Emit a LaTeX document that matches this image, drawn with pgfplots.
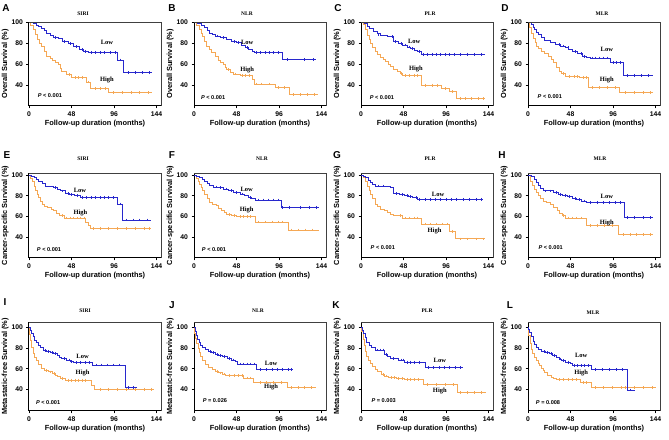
\documentclass[border=0pt]{standalone}
\usepackage{pgfplots}
\pgfplotsset{compat=1.18}
\usepackage{fontspec}
\setmainfont{Liberation Sans}
\newfontfamily\serf{Liberation Serif}
\definecolor{kmblue}{RGB}{40,40,205}
\definecolor{kmorange}{RGB}{245,168,85}

\pgfplotsset{
  km/.style={
    scale only axis, width=132pt, anchor=south west,
    xmin=0, xmax=149, xtick={0,48,96,144}, ytick={40,60,80,100},
    axis x line*=bottom, axis y line*=left,
    axis line style={line width=1pt},
    tick style={line width=0.8pt, black},
    tick align=outside, major tick length=2.5pt,
    ticklabel style={font=\fontsize{6.8}{7}\selectfont\bfseries},
    /pgf/number format/assume math mode=true,
    xlabel={Follow-up duration (months)},
    label style={font=\fontsize{7.4}{8}\selectfont\bfseries},
    xlabel style={yshift=3.5pt}, ylabel style={yshift=-4pt},
    clip=false,
    after end axis/.code={\draw[line width=0.5pt, black!75] (rel axis cs:0,1) -- (rel axis cs:1,1) -- (rel axis cs:1,0);},
  },
  row1/.style={km, height=84pt, ymin=20, ymax=100.5, ylabel={Overall Survival (\%)}},
  row2/.style={km, height=85pt, ymin=20, ymax=102, ylabel={Cancer-specific Survival (\%)}},
  row3/.style={km, height=89pt, ymin=19, ymax=105.5, ylabel={Metastatic-free Survival (\%)}},
  low/.style={const plot, color=kmblue, line width=0.9pt},
  high/.style={const plot, color=kmorange, line width=0.9pt},
  lowc/.style={only marks, mark=|, mark size=1.4pt, color=kmblue, mark options={line width=0.5pt}},
  highc/.style={only marks, mark=|, mark size=1.4pt, color=kmorange, mark options={line width=0.5pt}},
}
\newcommand{\km}[4]{%
  \addplot[high] coordinates {#3};
  \addplot[highc] coordinates {#4};
  \addplot[low] coordinates {#1};
  \addplot[lowc] coordinates {#2};
}
\tikzset{
  lh/.style={font=\serf\fontsize{6.5}{7}\selectfont\bfseries},
  pv/.style={font=\fontsize{5.6}{6}\selectfont\bfseries, anchor=west},
  ttl/.style={font=\serf\fontsize{5.5}{6}\selectfont\bfseries},
  let/.style={font=\fontsize{10}{11}\selectfont\bfseries},
}

\begin{document}
\begin{tikzpicture}[x=1pt,y=1pt]
\useasboundingbox (0,0) rectangle (669,439);

% ---------- row 1: overall survival ----------
\begin{axis}[row1, at={(29pt,333pt)}]
\km{(0,100)(5,99)(8,97.5)(11,96)(14,94)(17,92)(20,90)(24,88)(28,86)(33,84.4)(38,82)(44,79.6)(50,77)(57,74)(62,72.4)(67,71.3)(100,64)(107,52)(139,52)}
{(30,86)(40,82)(46,79.6)(53,77)(60,74)(64,72.4)(70,71.3)(75,71.3)(80,71.3)(85,71.3)(92,71.3)(97,71.3)(103,64)(112,52)(120,52)(128,52)(136,52)}
{(0,100)(2,97)(4.5,93.5)(7,89)(10,84)(12,80)(14,77)(17,72)(20,67.6)(24,65.5)(27,64)(30,62)(33,59.5)(35,56)(37,53)(42,50)(48,47.5)(65,43)(69,37)(90,33)(139,33)}
{(45,50)(52,47.5)(56,47.5)(60,47.5)(67,43)(75,37)(80,37)(86,37)(95,33)(105,33)(115,33)(125,33)(135,33)}
\node[lh] at (axis cs:88,80.5) {Low};
\node[lh] at (axis cs:88,45) {High};
\node[pv] at (axis cs:6,30) {\textit{P} < 0.001};
\end{axis}

\begin{axis}[row1, at={(194pt,333pt)}]
\km{(0,100)(4,99)(8,97.5)(12,95)(15,92.5)(18,90)(21,88.5)(24,87)(30,85.5)(37,84)(42,82)(48,80.5)(53,78)(58,75.7)(62,74)(66,72.4)(68,71.3)(100,64.5)(138,64.5)}
{(26,87)(33,85.5)(45,82)(50,80.5)(60,75.7)(70,71.3)(75,71.3)(80,71.3)(85,71.3)(90,71.3)(95,71.3)(105,64.5)(125,64.5)(135,64.5)}
{(0,100)(3,97)(6.5,93.5)(8,90)(10,87)(12,82)(14,77)(17,74)(20,71)(24,67.5)(27.5,64)(30,62)(33,59.5)(35,57)(37,54.6)(41,52.5)(44.7,50.7)(52,49)(66,45)(68,41)(92,37.7)(108,31)(140,31)}
{(39,54.6)(46,50.7)(55,49)(58,49)(62,49)(70,41)(76,41)(85,41)(95,37.7)(102,37.7)(112,31)(120,31)(128,31)(136,31)}
\node[lh] at (axis cs:60,81) {Low};
\node[lh] at (axis cs:60,54.6) {High};
\node[pv] at (axis cs:4,27.7) {\textit{P} < 0.001};
\end{axis}

\begin{axis}[row1, at={(361pt,333pt)}]
\km{(0,100)(4,99)(7,96)(10,94)(14.5,91)(18,89.5)(22,88)(30,87)(33.5,86.5)(37,81.7)(42,80)(47,78.5)(52,76.5)(56,75)(60,73.5)(64,72)(68,69.5)(140,69.5)}
{(20,88)(35,86.5)(39,81.7)(45,80)(50,78.5)(54,76.5)(58,75)(66,72)(70,69.5)(75,69.5)(80,69.5)(85,69.5)(90,69.5)(95,69.5)(100,69.5)(105,69.5)(112,69.5)(120,69.5)(128,69.5)(136,69.5)}
{(0,100)(3,97.7)(5,93)(7,88)(9,84)(10.7,80)(13,76)(16,72)(19,69.5)(22,67)(25,65)(28,62.5)(31,60)(33.5,57.7)(37,55)(41,52.8)(44,51)(47,49)(68,40)(91,37)(100,33.6)(108,27)(140,27)}
{(45,51)(50,49)(55,49)(60,49)(64,49)(72,40)(80,40)(86,40)(95,37)(103,33.6)(112,27)(118,27)(125,27)(132,27)(138,27)}
\node[lh] at (axis cs:60,81.7) {Low};
\node[lh] at (axis cs:62,55.4) {High};
\node[pv] at (axis cs:6,28) {\textit{P} < 0.001};
\end{axis}

\begin{axis}[row1, at={(528pt,333pt)}]
\km{(0,100)(4,98)(6,95.5)(7.7,93)(10,90.5)(11.6,88.5)(15,85.5)(19,82.8)(25,81)(31,79)(37,77.5)(42.6,75.7)(46,74)(50,72)(56,70)(62,67.8)(66,66.5)(70,66)(93,61.4)(108,49)(141,49)}
{(35,79)(40,77.5)(45,75.7)(53,72)(60,70)(64,67.8)(72,66)(76,66)(80,66)(85,66)(90,66)(96,61.4)(100,61.4)(104,61.4)(112,49)(120,49)(128,49)(136,49)}
{(0,100)(2,95)(4,90)(6,85)(8,80.5)(9.7,77)(12,75)(15.5,72.5)(19,70.5)(23,67.8)(26,64.5)(29,61.4)(32,57)(35,53.4)(38,51)(42.6,48.6)(58,47.6)(68,37.4)(103,32.7)(141,32.7)}
{(40,51)(46,48.6)(52,48.6)(56,48.6)(62,47.6)(66,47.6)(72,37.4)(80,37.4)(90,37.4)(98,37.4)(110,32.7)(120,32.7)(130,32.7)(138,32.7)}
\node[lh] at (axis cs:89,74) {Low};
\node[lh] at (axis cs:89,44.5) {High};
\node[pv] at (axis cs:7,29.5) {\textit{P} < 0.001};
\end{axis}

% ---------- row 2: cancer-specific survival ----------
\begin{axis}[row2, at={(29pt,181pt)}]
\km{(0,100)(3,99)(5.6,98)(8,96)(11,94)(15,92)(19,89.5)(28,88)(32,86.5)(35.7,84.7)(41,82)(46,81)(51,80)(58,78.3)(99.6,72)(106,56.6)(138,56.6)}
{(30,88)(38,84.7)(44,82)(48,81)(55,80)(60,78.3)(65,78.3)(70,78.3)(75,78.3)(80,78.3)(85,78.3)(90,78.3)(95,78.3)(103,72)(110,56.6)(118,56.6)(125,56.6)(133,56.6)}
{(0,100)(2,97)(4,94)(6,89)(7.5,84.7)(9,81)(11,78)(13,75)(15,72)(18,70)(20.7,68.7)(25,67)(28,65.5)(31,63)(34,60.7)(39.5,58.5)(64,54.4)(67,51)(69.5,48.6)(138,48.6)}
{(37,60.7)(42,58.5)(46,58.5)(50,58.5)(54,58.5)(58,58.5)(62,58.5)(72,48.6)(80,48.6)(90,48.6)(100,48.6)(110,48.6)(120,48.6)(130,48.6)(136,48.6)}
\node[lh] at (axis cs:57.5,85.3) {Low};
\node[lh] at (axis cs:58,63.3) {High};
\node[pv] at (axis cs:5,27.9) {\textit{P} < 0.001};
\end{axis}

\begin{axis}[row2, at={(194pt,181pt)}]
\km{(0,100)(3,99)(6.4,98)(9,96)(12,94)(15,91.5)(18,89.6)(22,88.5)(27,88)(33,86.5)(38.6,84.8)(45,83)(52,81.7)(57,80)(61,78.5)(65,77)(69,76)(98.5,69)(141,69)}
{(25,88.5)(30,88)(36,86.5)(42,84.8)(48,83)(55,81.7)(63,78.5)(72,76)(78,76)(84,76)(90,76)(95,76)(100,69)(108,69)(120,69)(130,69)(138,69)}
{(0,100)(2.5,97)(4.5,94)(6.5,91)(8.3,88)(10,85)(12,81.7)(15,77.5)(18,73.8)(21,72)(25.4,70.6)(28,68)(31,65.9)(34,64)(36.7,62)(42.4,61)(48,60)(69,54.7)(107,47)(141,47)}
{(40,62)(45,61)(52,60)(56,60)(60,60)(64,60)(72,54.7)(80,54.7)(88,54.7)(95,54.7)(100,54.7)(110,47)(118,47)(126,47)(134,47)}
\node[lh] at (axis cs:59.5,86) {Low};
\node[lh] at (axis cs:59.5,66.5) {High};
\node[pv] at (axis cs:5,28) {\textit{P} < 0.001};
\end{axis}

\begin{axis}[row2, at={(361pt,181pt)}]
\km{(0,100)(3,99)(5,97.4)(8,95)(10.7,92.7)(13,91)(16.4,89.5)(33.5,88)(37,82)(43,81)(48.8,80)(53,79)(58,78.3)(64,76.7)(138,76.7)}
{(20,89.5)(25,89.5)(40,82)(46,81)(52,80)(56,79)(62,78.3)(66,76.7)(72,76.7)(78,76.7)(84,76.7)(90,76.7)(96,76.7)(102,76.7)(108,76.7)(115,76.7)(122,76.7)(130,76.7)(136,76.7)}
{(0,100)(3,97.4)(5,93.5)(7,89.5)(9,85.5)(10.7,81.5)(13,77)(16.4,72)(19,69.5)(22,67)(26,65.5)(29.7,64)(33.5,62.3)(37,61.5)(41,60.7)(47,58.5)(68,52.8)(100,45.7)(107,38.4)(140,38.4)}
{(44,60.7)(50,58.5)(55,58.5)(60,58.5)(64,58.5)(72,52.8)(78,52.8)(85,52.8)(92,52.8)(97,52.8)(103,45.7)(112,38.4)(120,38.4)(130,38.4)(138,38.4)}
\node[lh] at (axis cs:87,81.5) {Low};
\node[lh] at (axis cs:83,46.4) {High};
\node[pv] at (axis cs:7,29.8) {\textit{P} < 0.001};
\end{axis}

\begin{axis}[row2, at={(528pt,181pt)}]
\km{(0,100)(4,99)(7,96)(9.7,92.7)(12,90)(14,87.5)(17.4,84.7)(29,83)(34,81.5)(38.7,80)(44,79)(50,77.7)(55,76.5)(60,75)(66,73.5)(108.4,59)(141,59)}
{(20,84.7)(25,84.7)(32,83)(36,81.5)(42,80)(47,79)(53,77.7)(58,76.5)(63,75)(70,73.5)(78,73.5)(85,73.5)(92,73.5)(98,73.5)(104,73.5)(112,59)(120,59)(130,59)(138,59)}
{(0,100)(3,94)(5,90)(7.7,86)(9.5,83)(11.6,80)(14,77.5)(17.4,75)(21,73.5)(25,72)(29,68.5)(33,65.5)(36,63)(38.7,60.7)(42.6,58.5)(66,51)(102.6,43)(141,43)}
{(40,60.7)(45,58.5)(50,58.5)(55,58.5)(60,58.5)(70,51)(78,51)(86,51)(95,51)(108,43)(115,43)(122,43)(130,43)(138,43)}
\node[lh] at (axis cs:89,79) {Low};
\node[lh] at (axis cs:89,53.4) {High};
\node[pv] at (axis cs:8,30.4) {\textit{P} < 0.001};
\end{axis}

% ---------- row 3: metastatic-free survival ----------
\begin{axis}[row3, at={(29pt,28pt)}]
\km{(0,100)(1.5,97)(2.7,94.5)(4.5,91)(6.5,88)(8.5,85.5)(10.4,83)(13,80.5)(16,78)(20,77)(24,75.7)(28,74.5)(31.6,73.4)(34,71.5)(37,70)(42,68.5)(47,67)(50,66)(72,63.7)(108.6,42)(122,42)}
{(18,78)(22,77)(26,75.7)(30,74.5)(40,70)(45,68.5)(48,67)(53,66)(58,66)(63,66)(68,66)(76,63.7)(82,63.7)(88,63.7)(95,63.7)(102,63.7)(112,42)(118,42)}
{(0,100)(1,93)(1.5,88)(3,81)(4.6,75)(6.5,71.5)(8.5,68.5)(11,64)(14,60.4)(18,58.5)(22,57)(26,55.5)(29.6,54)(32,52.5)(35.4,50.7)(41,49)(70,44)(74,40)(141,40)}
{(20,58.5)(24,57)(28,55.5)(38,50.7)(44,49)(48,49)(52,49)(56,49)(60,49)(64,49)(80,40)(90,40)(100,40)(110,40)(120,40)(130,40)(138,40)}
\node[lh] at (axis cs:60.5,72.4) {Low};
\node[lh] at (axis cs:60.5,56.2) {High};
\node[pv] at (axis cs:4,27) {\textit{P} < 0.001};
\end{axis}

\begin{axis}[row3, at={(194pt,28pt)}]
\km{(0,100)(1.5,96)(2.6,92.7)(4,89)(5.6,86)(7.5,83)(9.3,80.5)(13,78.5)(16.8,76.7)(20,75.5)(24.3,74)(28,73)(31.8,72)(37.4,70.3)(42,68.5)(46.7,67)(48.6,64.6)(70,59)(112,59)}
{(18,76.7)(22,75.5)(26,74)(30,73)(34,72)(40,70.3)(44,68.5)(52,64.6)(56,64.6)(60,64.6)(64,64.6)(68,64.6)(75,59)(82,59)(88,59)(94,59)(100,59)(106,59)(110,59)}
{(0,100)(1,94)(1.9,89.5)(3,85)(4.5,80)(6,76)(7.5,72)(10,68)(13,64)(16,61.5)(20.6,59)(24,57.5)(28,56)(32,55)(35.5,53.7)(56,51)(67,47)(106,41.6)(138,41.6)}
{(26,57.5)(30,56)(34,55)(40,53.7)(45,53.7)(50,53.7)(54,53.7)(60,51)(64,51)(75,47)(82,47)(90,47)(98,47)(110,41.6)(118,41.6)(125,41.6)(132,41.6)}
\node[lh] at (axis cs:87,65.5) {Low};
\node[lh] at (axis cs:87,42.2) {High};
\node[pv] at (axis cs:6,29.5) {\textit{P} = 0.026};
\end{axis}

\begin{axis}[row3, at={(361pt,28pt)}]
\km{(0,100)(1.5,97)(3,94)(5,90)(6.7,86)(9,83)(12.3,80.5)(16,78.3)(27,74)(30,72)(33,70.3)(42,68.5)(49.6,66.5)(73,61.4)(115,61.4)}
{(18,78.3)(22,78.3)(25,78.3)(28,74)(36,70.3)(45,68.5)(48,68.5)(52,66.5)(56,66.5)(60,66.5)(66,66.5)(76,61.4)(82,61.4)(88,61.4)(94,61.4)(100,61.4)(106,61.4)(112,61.4)}
{(0,100)(1,96)(2.5,89)(3.7,83)(5,77)(6.7,72)(8.5,68.5)(10.4,65.5)(13,62)(16,59)(19,57)(23.5,54.4)(27,53)(31,51.8)(40,50.5)(49.6,49.6)(70,44.8)(109,36.8)(141,36.8)}
{(25,54.4)(29,53)(34,51.8)(38,51.8)(42,50.5)(46,50.5)(52,49.6)(56,49.6)(60,49.6)(65,49.6)(75,44.8)(85,44.8)(95,44.8)(104,44.8)(112,36.8)(120,36.8)(128,36.8)(136,36.8)}
\node[lh] at (axis cs:89,67.8) {Low};
\node[lh] at (axis cs:89,38.4) {High};
\node[pv] at (axis cs:8,28.8) {\textit{P} = 0.003};
\end{axis}

\begin{axis}[row3, at={(528pt,28pt)}]
\km{(0,100)(1,98)(2,95)(4,91)(5.7,87)(7.5,84)(9.5,81)(12,79)(15,76.7)(20,75.5)(24.6,74.5)(28,73)(32,71.3)(35,69.5)(38,68)(42,66.5)(47.4,65)(50,63.3)(72,59)(112,39.4)(121,39.4)}
{(18,76.7)(22,75.5)(26,74.5)(30,73)(36,69.5)(40,68)(45,66.5)(52,63.3)(56,63.3)(60,63.3)(64,63.3)(68,63.3)(76,59)(84,59)(92,59)(100,59)(106,59)(115,39.4)}
{(0,100)(1,92)(2.5,85)(3.8,79)(5,75)(6.8,71.3)(9,68)(11.4,65)(13,63)(15,60.7)(17,58)(19,56)(22,54)(26.5,52)(29,51)(32,49.6)(58.7,46.7)(72,41.6)(144,41.6)}
{(35,49.6)(40,49.6)(45,49.6)(50,49.6)(55,49.6)(62,46.7)(66,46.7)(76,41.6)(85,41.6)(95,41.6)(105,41.6)(110,41.6)(120,41.6)(130,41.6)(140,41.6)}
\node[lh] at (axis cs:60,72.9) {Low};
\node[lh] at (axis cs:60,56) {High};
\node[pv] at (axis cs:5,27.5) {\textit{P} = 0.008};
\end{axis}

% ---------- panel letters and titles ----------
\node[let] at (6,431) {A};   \node[ttl] at (83,425) {SIRI};
\node[let] at (172,431) {B}; \node[ttl] at (247,425) {NLR};
\node[let] at (338,431) {C}; \node[ttl] at (430,425) {PLR};
\node[let] at (505,431) {D}; \node[ttl] at (602,425) {MLR};
\node[let] at (7,284) {E};   \node[ttl] at (83,280) {SIRI};
\node[let] at (172,284) {F}; \node[ttl] at (262,280) {NLR};
\node[let] at (337,284) {G}; \node[ttl] at (430,280) {PLR};
\node[let] at (502,284) {H}; \node[ttl] at (600,280) {MLR};
\node[let] at (5,137) {I};   \node[ttl] at (85,128) {SIRI};
\node[let] at (172,134) {J}; \node[ttl] at (258,128) {NLR};
\node[let] at (336,134) {K}; \node[ttl] at (427,128) {PLR};
\node[let] at (510,134) {L}; \node[ttl] at (593,126) {MLR};
\end{tikzpicture}
\end{document}
